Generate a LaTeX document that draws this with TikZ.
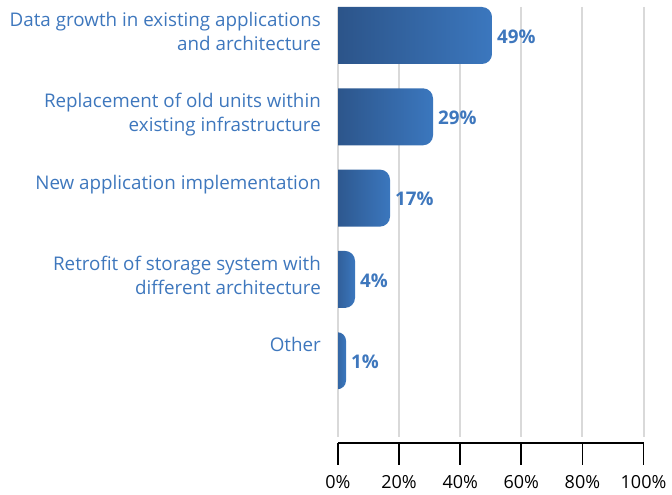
\documentclass[tikz,border=0pt]{standalone}
\usepackage{fontspec}
\setmainfont{Open Sans}
\usepackage{xcolor}
\usetikzlibrary{positioning}

\definecolor{barDark}{HTML}{2B5286}
\definecolor{barLight}{HTML}{3B77BE}
\definecolor{labelBlue}{HTML}{3E77BD}
\definecolor{gridGray}{HTML}{D9D9D9}

\begin{document}
\begin{tikzpicture}[
    x=1pt, y=-1pt,
    catlabel/.style = {
        anchor=base east,
        align=right,
        inner sep=0pt,
        text=labelBlue,
        font=\fontsize{18.8}{24}\selectfont
    },
    valuelabel/.style = {
        anchor=west,
        inner sep=0pt,
        text=labelBlue,
        font=\fontsize{18.8}{22}\selectfont\bfseries
    },
    ticklabel/.style = {
        anchor=base,
        inner sep=0pt,
        font=\fontsize{18}{22}\selectfont
    },
    gridline/.style = {draw=gridGray, line width=2pt},
    axisline/.style = {draw=black, line width=1.8pt},
    bar/.style      = {left color=barDark, right color=barLight}
]

\useasboundingbox (0,0) rectangle (672,495);

\def\xzero{338}
\def\xunit{3.055}
\def\rowsep{81.3}
\def\bartop{7}
\def\barh{57}

% grid
\foreach \p in {0,20,...,100}
    \draw[gridline] (\xzero+\xunit*\p,7) -- (\xzero+\xunit*\p,437);

% bars (value / drawn length / name / lines / label)
\foreach \v/\len/\name/\n/\txt [count=\i from 0] in {
    49/154/growth/2/{Data growth in existing applications\\and architecture},
    29/95/replace/2/{Replacement of old units within\\existing infrastructure},
    17/52/newapp/1/{New application implementation},
    4/17/retrofit/2/{Retrofit of storage system with\\different architecture},
    1/8/other/1/{Other}} {
    \pgfmathsetmacro{\ytop}{\bartop+\i*\rowsep}
    \pgfmathsetmacro{\xend}{\xzero+\len}
    \pgfmathsetmacro{\rad}{min(10,(\len+10)/2-0.5)}
    \begin{scope}
        \clip (\xzero,0) rectangle (672,495);
        \shade[bar, rounded corners=\rad pt] (\xzero-10,\ytop) rectangle (\xend,\ytop+\barh);
    \end{scope}
    \coordinate (\name end) at (\xend,\ytop+\barh/2+1);
    \node[valuelabel, right=5pt of \name end] (\name val) {\v\%};
    \node[catlabel] (\name) at (321,\ytop+19.5+24*\n-24) {\txt};
}

% axis
\draw[axisline] (\xzero,443) -- (\xzero+\xunit*100,443);
\foreach \p in {0,20,...,100} {
    \draw[axisline] (\xzero+\xunit*\p,443) -- (\xzero+\xunit*\p,465);
    \node[ticklabel] (tick\p) at (\xzero+\xunit*\p,488.5) {\p\%};
}

\end{tikzpicture}
\end{document}
